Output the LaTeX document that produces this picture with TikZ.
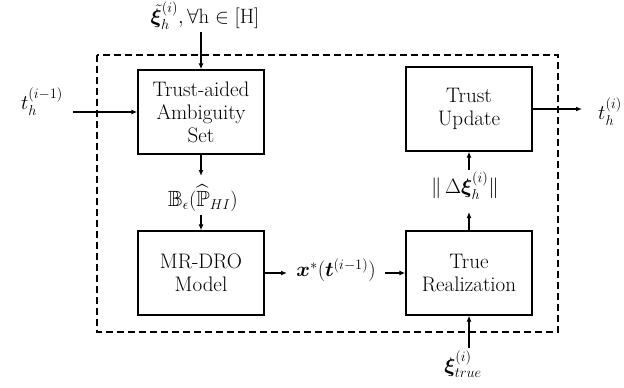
\documentclass[tikz,border=0pt]{standalone}
\usepackage{amsmath,amssymb,bm}
\usetikzlibrary{arrows.meta,calc}
\begin{document}
\begin{tikzpicture}[x=1pt,y=-1pt,
  box/.style={draw,line width=1.3pt,align=center,inner sep=0pt,
    minimum width=126pt,minimum height=84pt,font=\fontsize{21}{23}\selectfont},
  lbl/.style={inner sep=1pt,font=\fontsize{22}{24}\selectfont},
  arr/.style={line width=1.2pt,-{Latex[length=6pt,width=5pt]}},
  dash box/.style={line width=1.2pt,dash pattern=on 7pt off 4pt}]
\clip (0,0) rectangle (624,388);
\useasboundingbox (0,0) rectangle (624,388);
% frame
\draw[dash box] (97,55) rectangle (558,332);
% boxes
\node[box] (b1) at (201,112) {Trust-aided\\Ambiguity\\Set};
\node[box] (b2) at (201,273) {MR-DRO\\Model};
\node[box] (b3) at (469,273) {True\\Realization};
\node[box] (b4) at (469,109) {Trust\\Update};
% labels
\node[lbl] (lt) at (205,16) {$\tilde{\bm{\xi}}_h^{(i)},\forall\mathrm{h}\in[\mathrm{H}]$};
\node[lbl] (lin) at (42,102) {$t_h^{(i-1)}$};
\node[lbl,anchor=west] (lout) at (597,112) {$t_h^{(i)}$};
\node[lbl] (lb) at (203,198) {$\mathbb{B}_\epsilon(\widehat{\mathbb{P}}_{HI})$};
\node[lbl] (lx) at (336,270) {$\bm{x}^{*}(\bm{t}^{(i-1)})$};
\node[lbl] (ld) at (465,186) {$\|\,\Delta\bm{\xi}_h^{(i)}\|$};
\node[lbl] (lxt) at (463,364) {$\bm{\xi}_{true}^{(i)}$};
% free ends
\coordinate (ct) at (201,32);
\coordinate (cl) at (73,112);
\coordinate (cr) at (582,109);
\coordinate (cb) at (201,176);
\coordinate (cbb) at (201,215);
\coordinate (cx) at (287,273);
\coordinate (cxx) at (385,273);
\coordinate (cd) at (469,212);
\coordinate (cdd) at (469,170);
\coordinate (cxt) at (469,348);
% connectors
\draw[arr] (ct) -- (b1.north);
\draw[arr] (cl) -- (b1.west);
\draw[arr] (b1.south) -- (cb);
\draw[arr] (cbb) -- (b2.north);
\draw[arr] (b2.east) -- (cx);
\draw[arr] (cxx) -- (b3.west);
\draw[arr] (b3.north) -- (cd);
\draw[arr] (cdd) -- (b4.south);
\draw[arr] (b4.east) -- (cr);
\draw[arr] (cxt) -- (b3.south);
\end{tikzpicture}
\end{document}
